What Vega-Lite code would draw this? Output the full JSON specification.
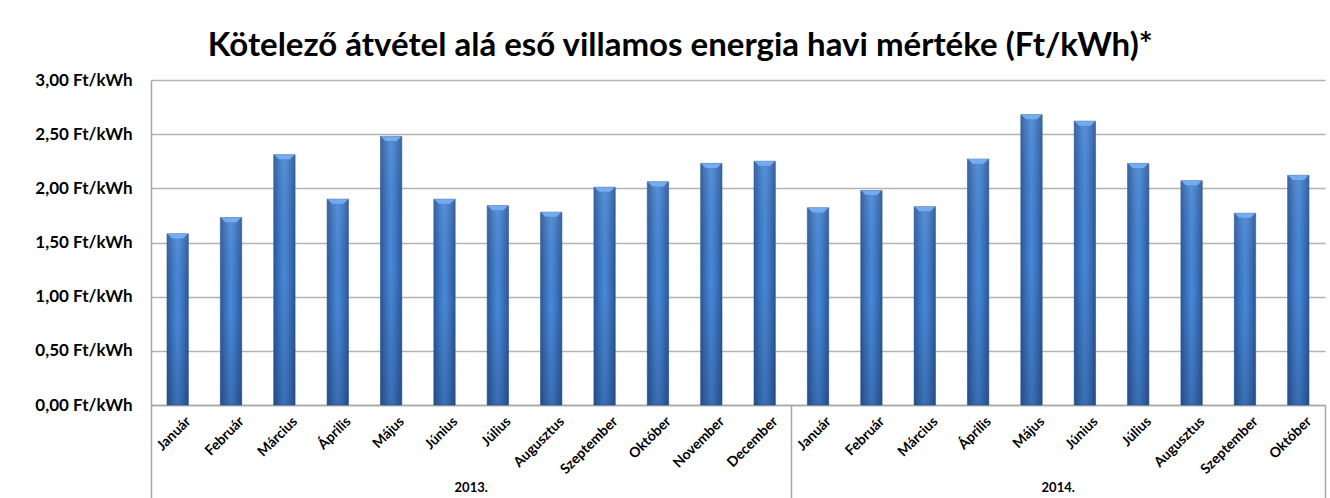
{
  "$schema": "https://vega.github.io/schema/vega-lite/v6.json",
  "width": 1174,
  "height": 325,
  "autosize": {"type": "none"},
  "padding": {"left": 151, "top": 80, "right": 5, "bottom": 93},
  "background": "white",
  "config": {
    "view": {"stroke": null},
    "axis": {"labelFont": "Lato", "labelFontWeight": "bold", "labelColor": "#000000", "title": null}
  },
  "title": {
    "text": "Kötelező átvétel alá eső villamos energia havi mértéke (Ft/kWh)*",
    "font": "Lato",
    "fontSize": 33,
    "fontWeight": "bold",
    "color": "#000000",
    "anchor": "middle",
    "frame": "bounds",
    "offset": 8
  },
  "data": {
    "values": [
      {"key": "2013|Január", "value": 1.58},
      {"key": "2013|Február", "value": 1.73},
      {"key": "2013|Március", "value": 2.31},
      {"key": "2013|Április", "value": 1.90},
      {"key": "2013|Május", "value": 2.48},
      {"key": "2013|Június", "value": 1.90},
      {"key": "2013|Július", "value": 1.84},
      {"key": "2013|Augusztus", "value": 1.78},
      {"key": "2013|Szeptember", "value": 2.01},
      {"key": "2013|Október", "value": 2.06},
      {"key": "2013|November", "value": 2.23},
      {"key": "2013|December", "value": 2.25},
      {"key": "2014|Január", "value": 1.82},
      {"key": "2014|Február", "value": 1.98},
      {"key": "2014|Március", "value": 1.83},
      {"key": "2014|Április", "value": 2.27},
      {"key": "2014|Május", "value": 2.68},
      {"key": "2014|Június", "value": 2.62},
      {"key": "2014|Július", "value": 2.23},
      {"key": "2014|Augusztus", "value": 2.07},
      {"key": "2014|Szeptember", "value": 1.77},
      {"key": "2014|Október", "value": 2.12}
    ]
  },
  "layer": [
    {
      "mark": {
        "type": "bar",
        "stroke": "#2a5590",
        "strokeWidth": 0.6,
        "color": {
          "gradient": "linear",
          "x1": 0, "x2": 1, "y1": 0, "y2": 0,
          "stops": [
            {"offset": 0, "color": "#2b5797"},
            {"offset": 0.3, "color": "#3e78c4"},
            {"offset": 0.5, "color": "#4888d6"},
            {"offset": 0.7, "color": "#3e78c4"},
            {"offset": 1, "color": "#2b5797"}
          ]
        }
      },
      "encoding": {
        "x": {
          "field": "key", "type": "nominal", "sort": null,
          "scale": {"paddingInner": 0.6, "paddingOuter": 0.3},
          "axis": {
            "orient": "bottom",
            "labelAngle": -45,
            "labelFontSize": 14,
            "labelPadding": 9,
            "labelOffset": 6,
            "ticks": false,
            "domainColor": "#a6a6a6",
            "domainWidth": 1.5,
            "labelExpr": "split(datum.value, '|')[1]"
          }
        },
        "y": {
          "field": "value", "type": "quantitative",
          "scale": {"domain": [0, 3], "nice": false},
          "axis": {
            "values": [0, 0.5, 1, 1.5, 2, 2.5, 3],
            "labelExpr": "replace(format(datum.value, '.2f'), '.', ',') + ' Ft/kWh'",
            "labelFontSize": 17,
            "labelPadding": 19,
            "ticks": false,
            "grid": true,
            "gridColor": "#b3b3b3",
            "gridWidth": 1.5,
            "domainColor": "#a6a6a6",
            "domainWidth": 1.5
          }
        }
      }
    },
    {
      "mark": {
        "type": "bar",
        "color": {
          "gradient": "linear",
          "x1": 0, "x2": 0, "y1": 0, "y2": 1,
          "stops": [
            {"offset": 0, "color": "rgba(255,255,255,0.08)"},
            {"offset": 0.5, "color": "rgba(20,40,80,0)"},
            {"offset": 1, "color": "rgba(20,40,80,0.25)"}
          ]
        }
      },
      "encoding": {
        "x": {
          "field": "key", "type": "nominal", "sort": null,
          "axis": {
            "orient": "bottom",
            "values": ["2013|Július", "2014|Június"],
            "labelOffset": -26.68,
            "labelAngle": 0,
            "labelAlign": "center",
            "labelBaseline": "top",
            "labelFontSize": 13,
            "labelPadding": 76,
            "ticks": false,
            "domain": false,
            "labelExpr": "split(datum.value, '|')[0] + '.'"
          }
        },
        "y": {"field": "value", "type": "quantitative", "axis": null}
      }
    },
    {
      "mark": {
        "type": "point",
        "shape": "M -1 0 L 1 0 L 0.55 0.45 L -0.55 0.45 Z",
        "size": 420,
        "filled": true,
        "fill": "#78aef0",
        "opacity": 0.95,
        "strokeWidth": 0
      },
      "encoding": {
        "x": {
          "field": "key", "type": "nominal", "sort": null,
          "axis": {
            "orient": "bottom",
            "values": ["2013|Január", "2014|Január"],
            "bandPosition": 0,
            "tickOffset": -16.01,
            "labels": false,
            "domain": false,
            "ticks": true,
            "tickSize": 93,
            "tickColor": "#a6a6a6",
            "tickWidth": 1.5
          }
        },
        "y": {"field": "value", "type": "quantitative", "axis": null}
      }
    },
    {
      "mark": {"type": "bar", "opacity": 0},
      "encoding": {
        "x": {
          "field": "key", "type": "nominal", "sort": null,
          "axis": {
            "orient": "bottom",
            "values": ["2014|Október"],
            "bandPosition": 1,
            "tickOffset": 16.01,
            "labels": false,
            "domain": false,
            "ticks": true,
            "tickSize": 93,
            "tickColor": "#a6a6a6",
            "tickWidth": 1.5
          }
        },
        "y": {"field": "value", "type": "quantitative", "axis": null}
      }
    }
  ],
  "resolve": {"axis": {"x": "independent", "y": "independent"}}
}
